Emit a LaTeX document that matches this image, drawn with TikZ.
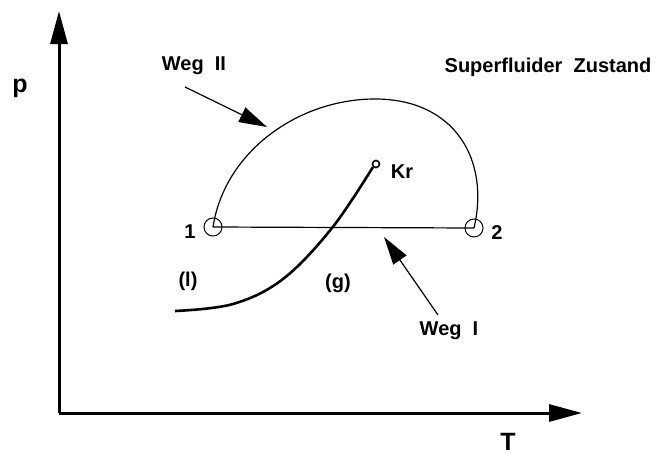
\documentclass[tikz,border=0pt]{standalone}
\usepackage{fontspec}
\setmainfont{Liberation Sans}
\usetikzlibrary{arrows.meta}
\tikzset{
  lbl/.style={inner sep=0pt,font=\bfseries\fontsize{10}{12}\selectfont},
  big/.style={inner sep=0pt,font=\bfseries\fontsize{12.5}{14}\selectfont},
  pnode/.style={circle,draw,line width=0.5pt,minimum size=9pt,inner sep=0pt},
  knode/.style={circle,draw,line width=0.8pt,minimum size=3.5pt,inner sep=0pt},
  ax/.style={-{Triangle[length=16.5pt,width=8.5pt]},line width=1.5pt},
  wp/.style={-{Triangle[length=14pt,width=8pt]},line width=0.6pt}
}

\begin{document}
\begin{tikzpicture}[x=0.5pt,y=-0.5pt]
\useasboundingbox (0,0) rectangle (658,455);
% axes
\coordinate (O) at (59,413);
\coordinate (PT) at (59,11);
\coordinate (TT) at (582,413);
\draw[ax] (O) -- (PT);
\draw[ax] (O) -- (TT);
\node[big] (p) at (20,88) {p};
\node[big] (T) at (508,442) {T};
% states
\node[pnode] (A) at (213,227) {};
\node[pnode] (B) at (474,228) {};
\node[knode] (K) at (376,164) {};
\node[lbl] at (190,232) {1};
\node[lbl] at (497,233) {2};
\node[lbl] at (402,172) {Kr};
% paths
\draw[line width=0.6pt] (A.center) -- (B.center);
\draw[line width=0.6pt] (A.center) .. controls (225,150) and (300,99) .. (375,99)
  .. controls (455,99) and (490,160) .. (B.center);
\draw[line width=1.3pt] plot[smooth,tension=0.6] coordinates
  {(K.south west) (332,228) (283,279) (233,304) (175,311)};
\node[lbl] (l) at (188,281) {(l)};
\node[lbl] (g) at (338,283) {(g)};
% labels with arrows
\node[lbl] (W2) at (194,66) {Weg\ \ II};
\node[lbl] (W1) at (449,331) {Weg\ \ I};
\node[lbl] (SZ) at (548,67) {Superfluider\ \ Zustand};
\coordinate (W2t) at (267,127);
\coordinate (W1t) at (384,237);
\draw[wp] (185,87) -- (W2t);
\draw[wp] (438,315) -- (W1t);
\end{tikzpicture}
\end{document}
